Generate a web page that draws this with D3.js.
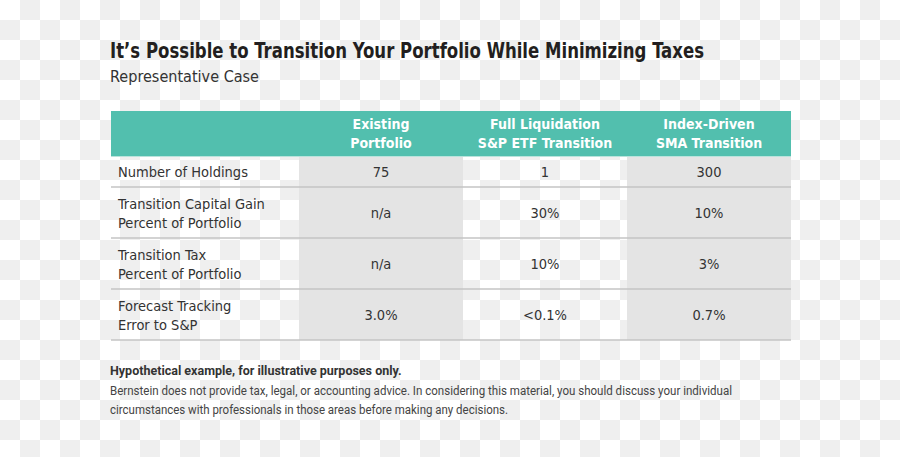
<!DOCTYPE html>
<html>
<head>
<meta charset="utf-8">
<script src="https://cdn.jsdelivr.net/npm/d3@7"></script>
<style>
  html, body { margin: 0; padding: 0; }
  svg { display: block; }
</style>
</head>
<body>
<svg id="chart" width="900" height="457"></svg>
<script>
const title = "It\u2019s Possible to Transition Your Portfolio While Minimizing Taxes";
const subtitle = "Representative Case";
const columns = [["Existing", "Portfolio"], ["Full Liquidation", "S&P ETF Transition"], ["Index-Driven", "SMA Transition"]];
const rowLabels = [["Number of Holdings"], ["Transition Capital Gain", "Percent of Portfolio"], ["Transition Tax", "Percent of Portfolio"], ["Forecast Tracking", "Error to S&P"]];
const existing = ["75", "n/a", "n/a", "3.0%"];
const fullLiquidation = ["1", "30%", "10%", "<0.1%"];
const indexDriven = ["300", "10%", "3%", "0.7%"];
const footBold = "Hypothetical example, for illustrative purposes only.";
const footLines = ["Bernstein does not provide tax, legal, or accounting advice. In considering this material, you should discuss your individual",
                   "circumstances with professionals in those areas before making any decisions."];

const svg = d3.select("#chart");
const W = 900, H = 457;

// checkerboard background
const defs = svg.append("defs");
const pat = defs.append("pattern").attr("id", "checker").attr("width", 40).attr("height", 40).attr("patternUnits", "userSpaceOnUse");
pat.append("rect").attr("width", 40).attr("height", 40).attr("fill", "#ffffff");
pat.append("rect").attr("x", 20).attr("y", 0).attr("width", 20).attr("height", 20).attr("fill", "#efefef");
pat.append("rect").attr("x", 0).attr("y", 20).attr("width", 20).attr("height", 20).attr("fill", "#efefef");
svg.append("rect").attr("width", W).attr("height", H).attr("fill", "url(#checker)");

const condFont = "'DejaVu Sans Condensed', 'Liberation Sans Narrow', 'Roboto', sans-serif";
const footFont = "'Liberation Sans Narrow', 'Roboto', 'Liberation Sans', sans-serif";

// Title
svg.append("text").attr("x", 110).attr("y", 58).text(title)
  .attr("font-family", condFont).attr("font-weight", "bold").attr("font-size", 21)
  .attr("fill", "#231f20").attr("textLength", 594).attr("lengthAdjust", "spacingAndGlyphs");
svg.append("text").attr("x", 110).attr("y", 82).text(subtitle)
  .attr("font-family", condFont).attr("font-weight", 300).attr("font-size", 16.5)
  .attr("fill", "#333").attr("textLength", 149).attr("lengthAdjust", "spacingAndGlyphs");

// table layout
const tableLeft = 111, tableRight = 791, labelRight = 299;
const x = d3.scaleBand().domain(d3.range(columns.length)).range([labelRight, tableRight]);
const headerTop = 111, headerBottom = 156;
const rowHeights = rowLabels.map(l => l.length === 1 ? 31 : 51);
const rowTops = [];
rowHeights.reduce((acc, h) => { rowTops.push(acc); return acc + h; }, headerBottom);
const tableBottom = headerBottom + d3.sum(rowHeights);
const values = [existing, fullLiquidation, indexDriven];

// shaded columns (1st and 3rd)
[0, 2].forEach(ci => {
  svg.append("rect").attr("x", x(ci)).attr("y", headerBottom).attr("width", x.bandwidth())
    .attr("height", tableBottom - headerBottom).attr("fill", "#e4e4e4");
});

// header
svg.append("rect").attr("x", tableLeft).attr("y", headerTop).attr("width", tableRight - tableLeft)
  .attr("height", headerBottom - headerTop).attr("fill", "#52bfae");
svg.append("line").attr("x1", tableLeft).attr("x2", tableRight).attr("y1", headerBottom + 0.5).attr("y2", headerBottom + 0.5)
  .attr("stroke", "#b9e3dc").attr("stroke-width", 1);

columns.forEach((lines, ci) => {
  lines.forEach((ln, li) => {
    svg.append("text").attr("x", x(ci) + x.bandwidth() / 2).attr("y", 129 + li * 19)
      .attr("text-anchor", "middle").text(ln)
      .attr("font-family", condFont).attr("font-weight", "bold").attr("font-size", 14).attr("fill", "#ffffff");
  });
});

// rows
rowLabels.forEach((lines, ri) => {
  const top = rowTops[ri], h = rowHeights[ri], mid = top + h / 2;
  const n = lines.length;
  lines.forEach((ln, li) => {
    svg.append("text").attr("x", 118).attr("y", mid + 5.5 + (li - (n - 1) / 2) * 19)
      .text(ln).attr("font-family", condFont).attr("font-weight", 300).attr("font-size", 14.5).attr("fill", "#333");
  });
  values.forEach((col, ci) => {
    svg.append("text").attr("x", x(ci) + x.bandwidth() / 2).attr("y", mid + 5.5)
      .attr("text-anchor", "middle").text(col[ri])
      .attr("font-family", condFont).attr("font-weight", 300).attr("font-size", 14.5).attr("fill", "#333");
  });
  svg.append("line").attr("x1", tableLeft).attr("x2", tableRight).attr("y1", top + h).attr("y2", top + h)
    .attr("stroke", "#c4c4c4").attr("stroke-width", 1.6);
});

// footer
svg.append("text").attr("x", 110).attr("y", 375).text(footBold)
  .attr("font-family", footFont).attr("font-weight", "bold").attr("font-size", 12.5).attr("fill", "#333");
const footWidths = [622, 398];
footLines.forEach((ln, i) => {
  svg.append("text").attr("x", 110).attr("y", 395 + i * 18.5).text(ln)
    .attr("font-family", footFont).attr("font-size", 12.5).attr("fill", "#444")
    .attr("textLength", footWidths[i]).attr("lengthAdjust", "spacingAndGlyphs");
});
</script>
</body>
</html>
